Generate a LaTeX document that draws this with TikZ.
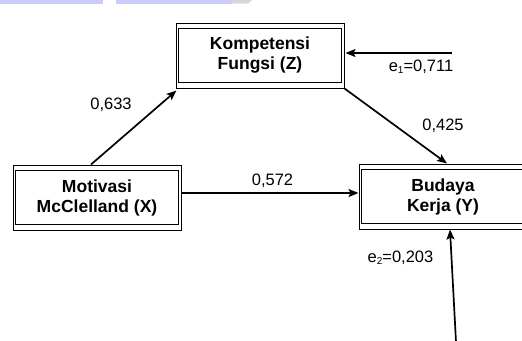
\documentclass[tikz,border=0pt]{standalone}
\usepackage{fontspec}
\setmainfont{Liberation Sans}
\usetikzlibrary{arrows.meta}
\tikzset{
  box/.style={draw=black, line width=1pt, minimum width=168pt, minimum height=65pt, inner sep=0pt, align=center, font=\fontsize{17.5}{20}\selectfont\bfseries},
  innerbox/.style={draw=black, line width=1pt},
  conn/.style={line width=1.7pt, -{Stealth[length=10pt,width=8pt,inset=2pt]}},
  lbl/.style={inner sep=0pt, font=\fontsize{16.5}{18}\selectfont}
}
\newcommand{\sbs}[1]{{\fontsize{10}{10}\selectfont\raisebox{-1.5pt}{#1}}}
\begin{document}
\begin{tikzpicture}[x=1pt,y=-1pt]
\useasboundingbox (0,0) rectangle (522,340);
\fill[white] (0,0) rectangle (522,340);
% top strip
\fill[color={rgb,255:red,204;green,204;blue,250}] (0,0) rectangle (103,3.5);
\fill[color={rgb,255:red,204;green,204;blue,250}] (116,0) rectangle (232,3.5);
\fill[color={rgb,255:red,214;green,214;blue,214}] (232,0) -- (252,0) -- (248,3.5) -- (232,3.5) -- cycle;
% boxes
\node[box] (Z) at (260,55.5) {Kompetensi\\Fungsi (Z)};
\node[box] (X) at (97,197.5) {Motivasi\\McClelland (X)};
\node[box] (Y) at (443,196.5) {Budaya\\Kerja (Y)};
\foreach \n in {Z,X,Y}{
  \draw[innerbox] ([shift={(3,6)}]\n.north west) rectangle ([shift={(-3,-6)}]\n.south east);
}
% error sources
\coordinate (e1) at (452,53);
\coordinate (e2) at (456,342);
% connectors
\draw[conn] ([xshift=-6pt]X.north) -- ([shift={(1,2)}]Z.south west);
\draw[conn] (Z.south east) -- ([xshift=4pt]Y.north);
\draw[conn] ([yshift=4.5pt]X.east) -- ([yshift=3.5pt]Y.west);
\draw[conn] (e1) -- ([shift={(1,0)}]Z.east |- e1);
\draw[conn] (e2) -- ([xshift=7pt]Y.south);
% labels
\node[lbl] (l1) at (111,105) {0,633};
\node[lbl] (l2) at (443,125.5) {0,425};
\node[lbl] (l3) at (272.5,181) {0,572};
\node[lbl] (l4) at (421,67) {e\sbs{1}=0,711};
\node[lbl] (l5) at (400.5,258) {e\sbs{2}=0,203};
\end{tikzpicture}
\end{document}
